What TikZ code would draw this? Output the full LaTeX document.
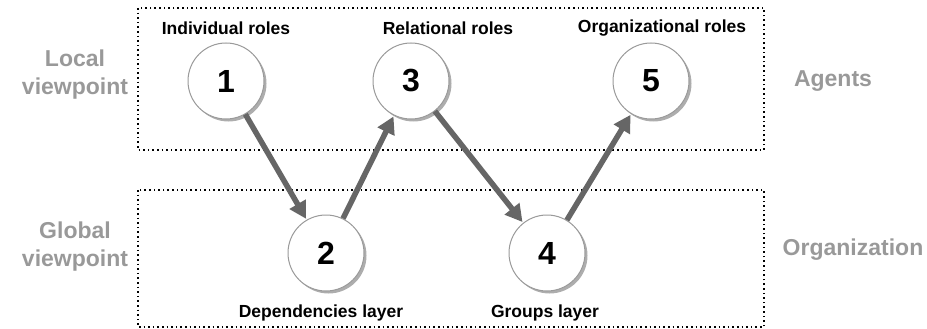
\documentclass[tikz,border=0pt]{standalone}
\usepackage{fontspec}
\setmainfont{Liberation Sans}
\usetikzlibrary{arrows.meta,shadows}
\definecolor{lblgray}{HTML}{999999}
\definecolor{arrgray}{HTML}{666666}
\definecolor{ringgray}{HTML}{9A9A9A}
\begin{document}
\begin{tikzpicture}[x=1pt,y=-1pt,
  rolecircle/.style={circle,draw=ringgray,line width=1pt,fill=white,minimum size=76pt,inner sep=0pt,
    font=\fontsize{32}{32}\selectfont\bfseries,
    drop shadow={shadow xshift=2.5pt,shadow yshift=-2.5pt,fill=black!40,opacity=0.8}},
  toplabel/.style={font=\fontsize{17.5}{20}\selectfont\bfseries,text=black},
  sidelabel/.style={font=\fontsize{23}{28}\selectfont\bfseries,text=lblgray,align=center},
  dotbox/.style={draw=black,line width=1.6pt,dash pattern=on 1.6pt off 3pt},
  flow/.style={draw=arrgray,line width=5.5pt,-{Triangle[length=17pt,width=18pt]},shorten >=1pt}
]
\useasboundingbox (0,0) rectangle (927,329);
\path[dotbox] (138,8) rectangle (764,150);
\path[dotbox] (138,190) rectangle (764,327);

\node[rolecircle] (n1) at (226,81) {1};
\node[rolecircle] (n3) at (411,81) {3};
\node[rolecircle] (n5) at (651,81) {5};
\node[rolecircle] (n2) at (326,253) {2};
\node[rolecircle] (n4) at (547,253) {4};

\node[toplabel] (l1) at (226,28) {Individual roles};
\node[toplabel] (l3) at (448,28) {Relational roles};
\node[toplabel] (l5) at (662,28) {Organizational roles};
\node[toplabel] (l2) at (321,313) {Dependencies layer};
\node[toplabel] (l4) at (545,313) {Groups layer};

\node[sidelabel] (local) at (75,75) {Local\\viewpoint};
\node[sidelabel] (global) at (75,247) {Global\\viewpoint};
\node[sidelabel] (agents) at (833,81) {Agents};
\node[sidelabel] (org) at (853,250) {Organization};

\draw[flow] (n1) -- (n2);
\draw[flow] (n2) -- (n3);
\draw[flow] (n3) -- (n4);
\draw[flow] (n4) -- (n5);
\end{tikzpicture}
\end{document}
